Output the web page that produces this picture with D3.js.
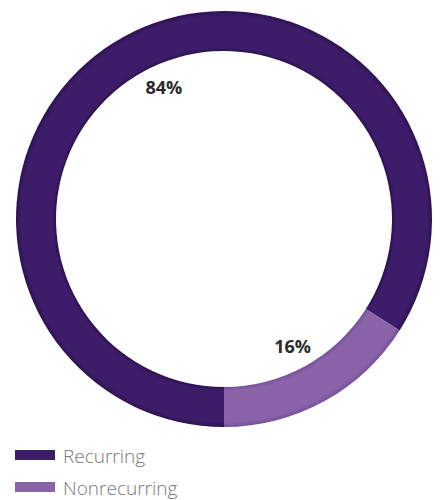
<!DOCTYPE html>
<html>
<head>
<meta charset="utf-8">
<script src="https://cdn.jsdelivr.net/npm/d3@7/dist/d3.min.js"></script>
<style>
html,body{margin:0;padding:0;background:#fff;}
svg{display:block;}
</style>
</head>
<body>
<svg id="chart" width="440" height="500"></svg>
<script>
const categories = ["Recurring", "Nonrecurring"];
const values = [84, 16];
const labels = ["84%", "16%"];
const colors = ["#3d1d6a", "#8a63a8"];
const edgeColors = ["#2c1250", "#74519a"];

const svg = d3.select("#chart");
const cx = 224, cy = 219, outerR = 208, innerR = 168;

const defs = svg.append("defs");
colors.forEach((c, i) => {
  const g = defs.append("radialGradient")
    .attr("id", "grad" + i)
    .attr("gradientUnits", "userSpaceOnUse")
    .attr("cx", 0).attr("cy", 0).attr("r", outerR);
  const f = innerR / outerR;
  g.append("stop").attr("offset", f).attr("stop-color", edgeColors[i]);
  g.append("stop").attr("offset", f + 0.02).attr("stop-color", c);
  g.append("stop").attr("offset", 0.975).attr("stop-color", c);
  g.append("stop").attr("offset", 1).attr("stop-color", edgeColors[i]);
});

const data = categories.map((k, i) => ({ key: k, value: values[i], label: labels[i], i }));

const pie = d3.pie()
  .value(d => d.value)
  .sort(null)
  .startAngle(Math.PI)
  .endAngle(3 * Math.PI);

const arcs = pie(data);
const arc = d3.arc().innerRadius(innerR).outerRadius(outerR);
const labelR = 145;
// label angle: slice mid-angle, nudged slightly toward the top for the large slice
const labelAngle = d => (d.startAngle + d.endAngle) / 2 + (d.data.i === 0 ? 0.075 : 0.01);

const g = svg.append("g").attr("transform", `translate(${cx},${cy})`);

g.selectAll("path.slice")
  .data(arcs)
  .join("path")
  .attr("class", "slice")
  .attr("d", arc)
  .attr("fill", d => `url(#grad${d.data.i})`);

g.selectAll("text.lbl")
  .data(arcs)
  .join("text")
  .attr("class", "lbl")
  .attr("transform", d => {
    const a = labelAngle(d);
    return `translate(${labelR * Math.sin(a)},${-labelR * Math.cos(a)})`;
  })
  .attr("text-anchor", "middle")
  .attr("dy", "0.36em")
  .attr("font-family", "'Open Sans', sans-serif")
  .attr("font-weight", 700)
  .attr("font-size", "18px")
  .attr("fill", "#2b2b2b")
  .text(d => d.data.label);

const legend = svg.append("g").attr("transform", "translate(15,450)");
const item = legend.selectAll("g")
  .data(data)
  .join("g")
  .attr("transform", (d, i) => `translate(0,${i * 32})`);
item.append("rect")
  .attr("width", 40).attr("height", 10)
  .attr("fill", d => colors[d.i]);
item.append("text")
  .attr("x", 48).attr("y", 13)
  .attr("font-family", "'Open Sans', sans-serif")
  .attr("font-weight", 300)
  .attr("font-size", "19px")
  .attr("fill", "#777")
  .text(d => d.key);
</script>
</body>
</html>
